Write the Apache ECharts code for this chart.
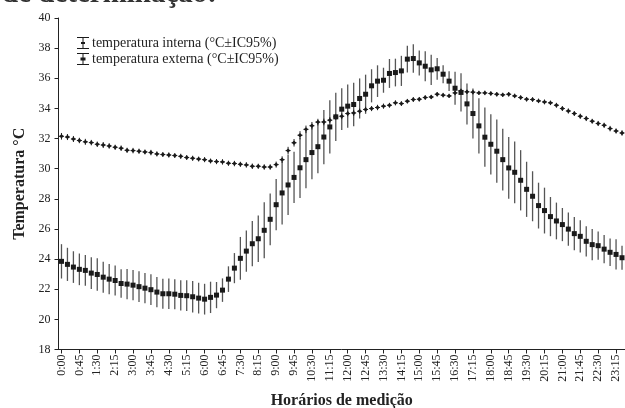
<!DOCTYPE html>
<html>
<head>
<meta charset="utf-8">
<script src="https://cdn.jsdelivr.net/npm/echarts@6/dist/echarts.min.js"></script>
<style>html,body{margin:0;padding:0;background:#fff;}#c{width:625px;height:408px;}</style>
</head>
<body>
<div id="c"></div>
<script>
var horarios = ["0:00","0:15","0:30","0:45","1:00","1:15","1:30","1:45","2:00","2:15","2:30","2:45",
"3:00","3:15","3:30","3:45","4:00","4:15","4:30","4:45","5:00","5:15","5:30","5:45",
"6:00","6:15","6:30","6:45","7:00","7:15","7:30","7:45","8:00","8:15","8:30","8:45",
"9:00","9:15","9:30","9:45","10:00","10:15","10:30","10:45","11:00","11:15","11:30","11:45",
"12:00","12:15","12:30","12:45","13:00","13:15","13:30","13:45","14:00","14:15","14:30","14:45",
"15:00","15:15","15:30","15:45","16:00","16:15","16:30","16:45","17:00","17:15","17:30","17:45",
"18:00","18:15","18:30","18:45","19:00","19:15","19:30","19:45","20:00","20:15","20:30","20:45",
"21:00","21:15","21:30","21:45","22:00","22:15","22:30","22:45","23:00","23:15","23:30"];

var tempInterna = [32.15,32.10,31.97,31.87,31.78,31.73,31.62,31.57,31.51,31.42,31.36,31.22,
31.20,31.16,31.11,31.07,30.98,30.94,30.91,30.87,30.82,30.74,30.69,30.64,
30.60,30.51,30.47,30.45,30.36,30.34,30.29,30.25,30.16,30.16,30.11,30.11,
30.27,30.60,31.20,31.72,32.22,32.61,32.85,33.09,33.10,33.22,33.44,33.48,
33.66,33.70,33.81,33.93,33.99,34.06,34.15,34.21,34.37,34.32,34.48,34.59,
34.61,34.72,34.76,34.94,34.88,34.83,35.03,35.16,35.10,35.08,35.03,35.03,
34.99,34.94,34.90,34.94,34.83,34.72,34.61,34.59,34.50,34.43,34.37,34.21,
33.99,33.83,33.66,33.48,33.33,33.15,33.00,32.88,32.66,32.50,32.37];

var icInterna = [0.22,0.20,0.20,0.18,0.20,0.18,0.18,0.20,0.18,0.17,0.18,0.17,
0.18,0.17,0.16,0.18,0.17,0.16,0.17,0.16,0.17,0.16,0.17,0.16,
0.17,0.16,0.17,0.18,0.17,0.18,0.17,0.18,0.18,0.17,0.18,0.18,
0.20,0.22,0.25,0.25,0.27,0.25,0.25,0.22,0.22,0.20,0.20,0.20,
0.18,0.20,0.18,0.18,0.17,0.18,0.17,0.16,0.17,0.16,0.15,0.16,
0.15,0.15,0.14,0.15,0.15,0.14,0.15,0.15,0.14,0.15,0.14,0.15,
0.14,0.15,0.14,0.15,0.15,0.14,0.15,0.15,0.15,0.16,0.15,0.16,
0.16,0.17,0.16,0.17,0.17,0.16,0.17,0.17,0.18,0.17,0.18];

var tempExterna = [23.85,23.65,23.47,23.32,23.25,23.07,22.98,22.80,22.67,22.58,22.38,22.34,
22.27,22.17,22.07,21.97,21.81,21.70,21.70,21.67,21.59,21.57,21.50,21.41,
21.34,21.46,21.61,21.94,22.67,23.40,24.05,24.53,25.02,25.35,25.91,26.64,
27.61,28.39,28.92,29.42,30.06,30.60,31.07,31.46,32.10,32.77,33.44,33.95,
34.15,34.26,34.66,34.94,35.50,35.81,35.87,36.32,36.38,36.49,37.27,37.31,
37.02,36.80,36.56,36.63,36.27,35.81,35.34,35.06,34.30,33.66,32.84,32.09,
31.62,31.16,30.60,30.05,29.76,29.23,28.63,28.17,27.55,27.22,26.82,26.53,
26.29,25.99,25.69,25.51,25.18,24.96,24.89,24.66,24.45,24.31,24.09];

var icExterna = [1.14,1.10,1.05,1.05,1.02,1.05,1.08,1.03,1.00,1.00,0.95,1.00,
1.00,1.02,1.00,1.02,1.00,1.00,1.02,1.00,1.00,1.02,1.05,1.02,
1.02,1.04,0.87,0.78,0.85,1.00,1.42,1.37,1.50,1.55,1.86,1.72,
1.70,2.10,2.00,1.70,2.00,1.90,1.77,1.77,1.80,1.77,1.60,1.38,
1.44,1.44,1.33,1.30,1.10,1.05,0.83,0.96,0.92,1.00,0.89,0.94,
0.83,1.00,1.00,0.72,0.60,0.66,1.10,1.27,1.36,1.66,1.83,1.97,
2.00,2.10,2.05,2.05,2.05,2.00,1.83,1.66,1.52,1.52,1.30,1.22,
1.10,1.10,1.10,1.07,1.00,1.03,0.94,0.94,0.91,1.00,0.80];

var yMin = 18, yMax = 40, yStep = 2;
var serif = '"Liberation Serif","Times New Roman",serif';

function build(means, cis) {
  var out = [];
  for (var i = 0; i < means.length; i++) out.push([i, means[i], cis[i]]);
  return out;
}

function makeRender(kind, barColor, barWidth) {
  return function (params, api) {
    var i = api.value(0), m = api.value(1), c = api.value(2);
    var p = api.coord([i, m]);
    var t = api.coord([i, m + c]);
    var b = api.coord([i, m - c]);
    var ch = [{
      type: 'line',
      shape: { x1: p[0], y1: t[1], x2: p[0], y2: b[1] },
      style: { stroke: barColor, lineWidth: barWidth }
    }];
    if (kind === 'square') {
      ch.push({ type: 'rect', shape: { x: p[0] - 2.5, y: p[1] - 2.5, width: 5, height: 5 },
        style: { fill: '#1a1a1a' } });
    } else {
      ch.push({ type: 'polygon', shape: { points: [[p[0], p[1] - 2.2], [p[0] + 2.2, p[1]], [p[0], p[1] + 2.2], [p[0] - 2.2, p[1]]] },
        style: { fill: '#1a1a1a' } });
      ch.push({ type: 'line', shape: { x1: p[0] - 2.5, y1: p[1], x2: p[0] + 2.5, y2: p[1] },
        style: { stroke: '#1a1a1a', lineWidth: 1 } });
    }
    return { type: 'group', children: ch };
  };
}

var iconSmall = 'path://M0,0H12V1H6.5V5H8V7H6.5V11H12V12H0V11H5.5V7H4V5H5.5V1H0Z';
var iconSquare = 'path://M0,0H12V1H6.5V4.5H8.5V7.5H6.5V11H12V12H0V11H5.5V7.5H3.5V4.5H5.5V1H0Z';

var nomeInterna = 'temperatura interna (°C±IC95%)';
var nomeExterna = 'temperatura externa (°C±IC95%)';

var chart = echarts.init(document.getElementById('c'), null, { renderer: 'canvas' });
chart.setOption({
  animation: false,
  backgroundColor: '#ffffff',
  textStyle: { fontFamily: serif },
  graphic: [{
    type: 'text', left: 2, top: -20,
    style: { text: 'de determinação:', font: 'bold 29px ' + serif, fill: '#333' }
  }],
  legend: {
    orient: 'vertical', left: 72, top: 31, itemWidth: 12, itemHeight: 12, itemGap: 2,
    textStyle: { fontFamily: serif, fontSize: 14, color: '#222', padding: [0, 0, 0, -2] },
    data: [{ name: nomeInterna, icon: iconSmall }, { name: nomeExterna, icon: iconSquare }]
  },
  grid: { left: 58.5, right: 0, top: 18, bottom: 58.5, containLabel: false, outerBoundsMode: 'none' },
  xAxis: {
    type: 'category', data: horarios, boundaryGap: true,
    name: 'Horários de medição', nameLocation: 'middle', nameGap: 43,
    nameTextStyle: { fontFamily: serif, fontWeight: 'bold', fontSize: 16, color: '#222' },
    axisLine: { lineStyle: { color: '#222', width: 1 } },
    axisTick: { show: true, interval: 2, alignWithLabel: true, length: 4, lineStyle: { color: '#222' } },
    axisLabel: { interval: 2, rotate: 90, fontFamily: serif, fontSize: 12, color: '#222', margin: 5 },
    splitLine: { show: false }
  },
  yAxis: {
    type: 'value', min: yMin, max: yMax, interval: yStep,
    name: 'Temperatura °C', nameLocation: 'middle', nameGap: 27, nameRotate: 90,
    nameTextStyle: { fontFamily: serif, fontWeight: 'bold', fontSize: 16, color: '#222' },
    axisLine: { show: true, lineStyle: { color: '#222', width: 1 } },
    axisTick: { show: true, length: 4, lineStyle: { color: '#222' } },
    axisLabel: { fontFamily: serif, fontSize: 12, color: '#222', margin: 8 },
    splitLine: { show: false }
  },
  series: [{
    name: nomeInterna, type: 'custom', itemStyle: { color: '#1a1a1a' },
    renderItem: makeRender('small', '#222', 1), data: build(tempInterna, icInterna), z: 3
  }, {
    name: nomeExterna, type: 'custom', itemStyle: { color: '#1a1a1a' },
    renderItem: makeRender('square', '#555', 1.3), data: build(tempExterna, icExterna), z: 2
  }]
});
</script>
</body>
</html>
